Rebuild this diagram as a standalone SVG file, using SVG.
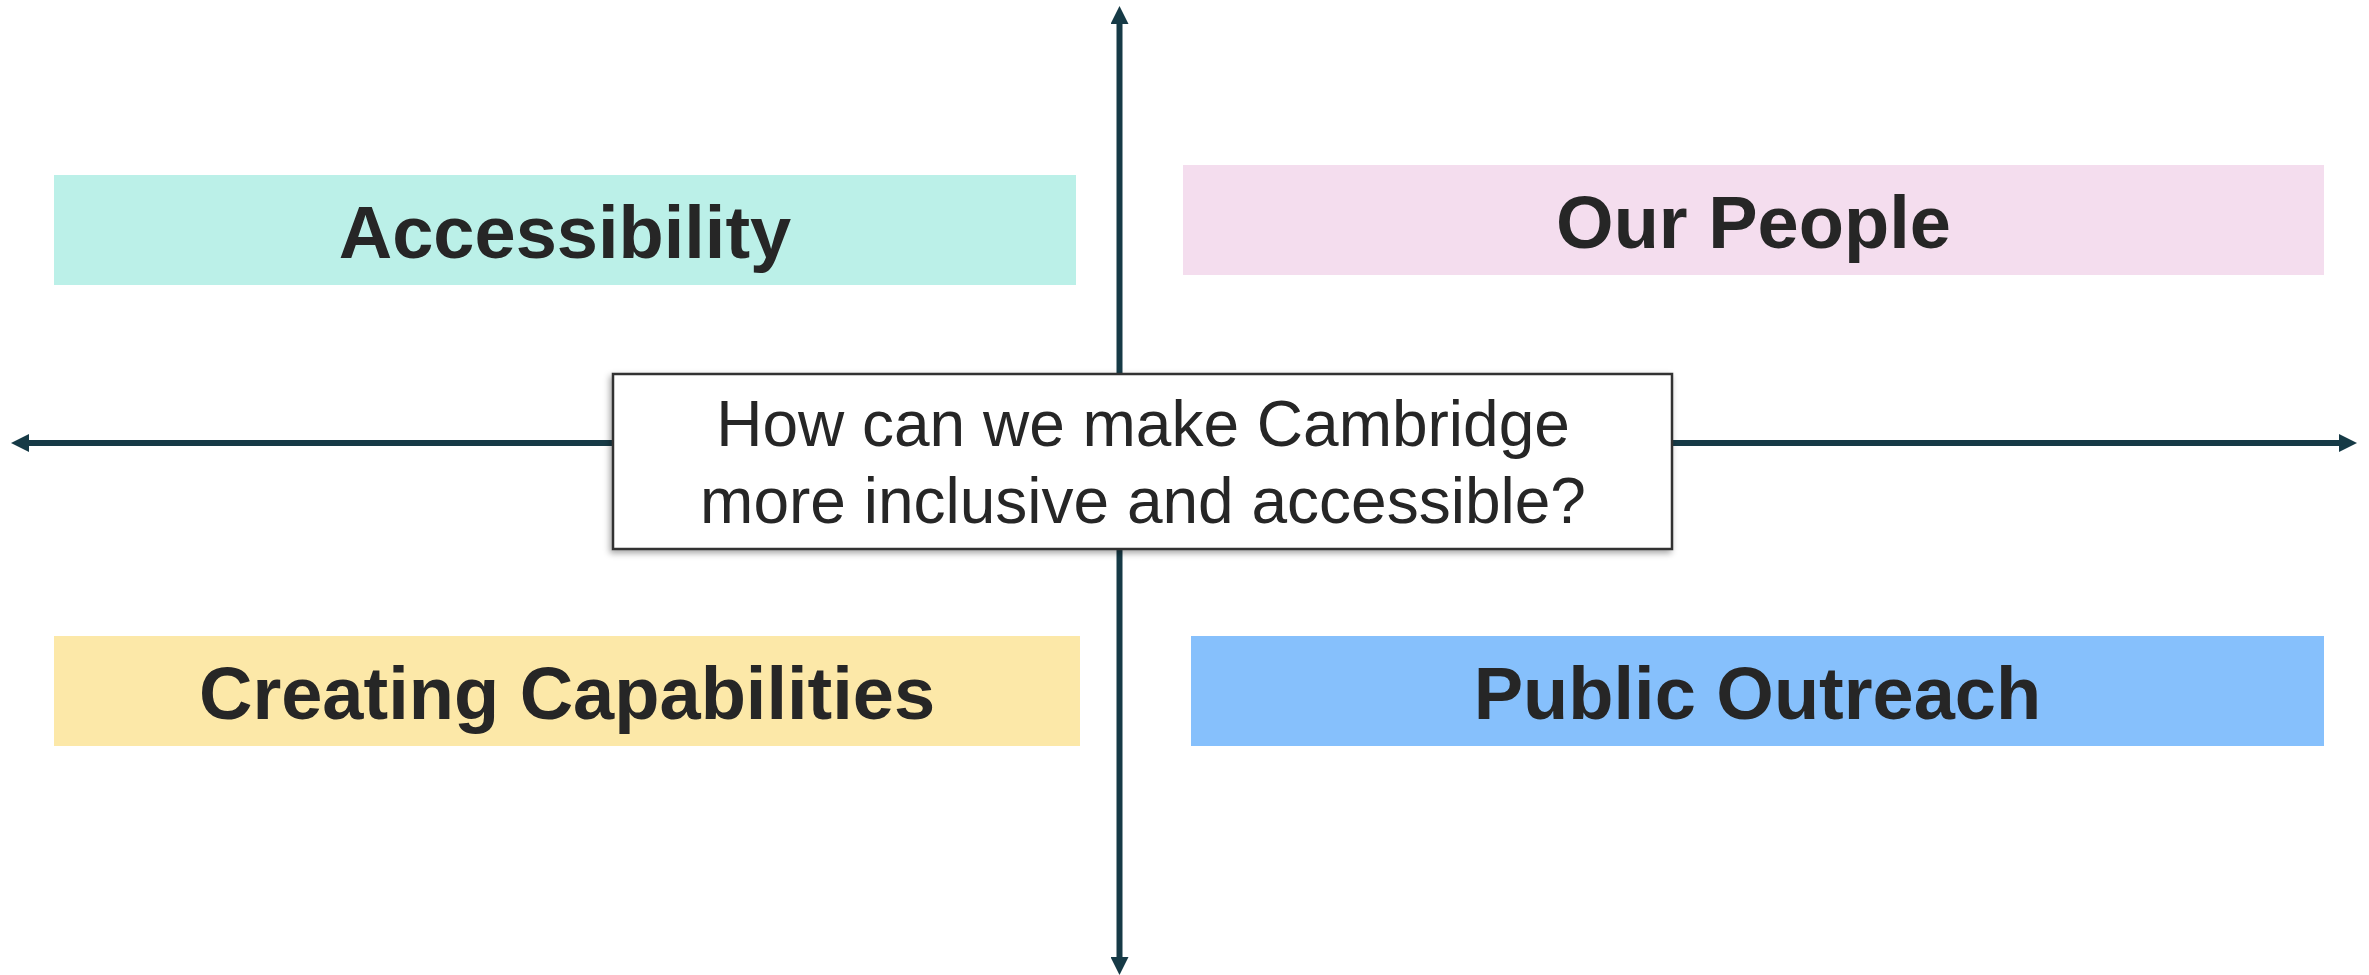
<svg xmlns="http://www.w3.org/2000/svg" width="2369" height="975" viewBox="0 0 2369 975">
<style>
.axis{stroke:#163A46;stroke-width:6;fill:none}
.lbl{font-family:"Liberation Sans",Arial,sans-serif;font-weight:bold;font-size:74px;fill:#262626;text-anchor:middle}
.q{font-family:"Liberation Sans",Arial,sans-serif;font-size:64px;fill:#262626;text-anchor:middle}
</style>
<defs>
<marker id="ah" viewBox="0 0 18 18" refX="0" refY="9" markerWidth="18" markerHeight="18" markerUnits="userSpaceOnUse" orient="auto">
<path d="M0,0 L18,9 L0,18 Z" fill="#163A46"/>
</marker>
<filter id="sh" x="-5%" y="-10%" width="110%" height="125%">
<feDropShadow dx="-2" dy="3" stdDeviation="3" flood-color="#000" flood-opacity="0.35"/>
</filter>
</defs>
<rect width="2369" height="975" fill="#ffffff"/>
<g id="connectors">
<line class="axis" x1="1190" y1="443" x2="29" y2="443" marker-end="url(#ah)"/>
<line class="axis" x1="1190" y1="443" x2="2339" y2="443" marker-end="url(#ah)"/>
<line class="axis" x1="1119.5" y1="460" x2="1119.5" y2="24" marker-end="url(#ah)"/>
<line class="axis" x1="1119.5" y1="460" x2="1119.5" y2="957" marker-end="url(#ah)"/>
</g>
<g id="accessibility">
<rect x="54" y="175" width="1022" height="110" fill="#BBF0E8"/>
<text class="lbl" x="565" y="258">Accessibility</text>
</g>
<g id="our-people">
<rect x="1183" y="165" width="1141" height="110" fill="#F4DDEE"/>
<text class="lbl" x="1753.5" y="248">Our People</text>
</g>
<g id="creating-capabilities">
<rect x="54" y="636" width="1026" height="110" fill="#FCE8A8"/>
<text class="lbl" x="567" y="719">Creating Capabilities</text>
</g>
<g id="public-outreach">
<rect x="1191" y="636" width="1133" height="110" fill="#86C0FC"/>
<text class="lbl" x="1757.5" y="719">Public Outreach</text>
</g>
<g id="question">
<rect x="613" y="374" width="1059" height="175" fill="#ffffff" stroke="#333333" stroke-width="2.5" filter="url(#sh)"/>
<text class="q" x="1143" y="446">How can we make Cambridge</text>
<text class="q" x="1143" y="523">more inclusive and accessible?</text>
</g>
</svg>
